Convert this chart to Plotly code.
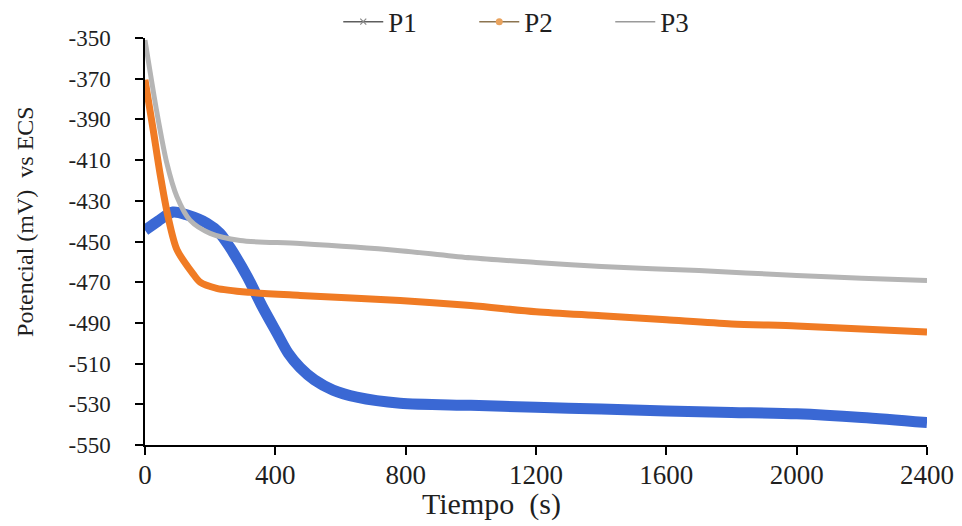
import plotly.graph_objects as go

# Tiempo (s) and Potencial (mV vs ECS)
t_p1 = [0, 40, 86, 130, 190, 230, 261, 313, 360, 405, 440, 476, 520, 577, 650, 783, 1000, 1200, 1400, 1600, 1800, 2000, 2200, 2400]
v_p1 = [-444.5, -440, -435.5, -437, -441, -446, -453, -467, -482, -495, -505, -512, -518, -523, -526.5, -529.5, -530.5, -531.5, -532.3, -533.3, -534, -534.7, -536.5, -539]

t_p2 = [0, 25, 46, 71, 98, 147, 169, 220, 322, 476, 783, 1000, 1200, 1400, 1600, 1800, 2000, 2200, 2400]
v_p2 = [-370.5, -395, -416.5, -438, -454, -465.8, -470, -473, -475, -476.5, -479, -481.5, -484.5, -486.5, -488.5, -490.5, -491.5, -493, -494.5]

t_p3 = [0, 37, 67, 98, 138, 200, 292, 476, 783, 1000, 1200, 1400, 1700, 2000, 2200, 2400]
v_p3 = [-351, -387, -411.5, -428, -439.5, -446, -449.5, -451, -454.5, -458, -460.3, -462.3, -464.3, -466.7, -468, -469.2]

x_ticks = [0, 400, 800, 1200, 1600, 2000, 2400]
y_ticks = [-350, -370, -390, -410, -430, -450, -470, -490, -510, -530, -550]
y_tick_text = ["-350", "-370", "-390", "-410", "-430", "-450", "-470", "-490", "-510", "-530", "-550"]

serif = "Liberation Serif"
txt = "#1f1f1f"

fig = go.Figure()
# drawing order: P1 at the bottom, P3 on top
fig.add_trace(go.Scatter(x=t_p1, y=v_p1, mode="lines", line=dict(color="#3A68D4", width=11, shape="spline", smoothing=0.8),
                         showlegend=False))
fig.add_trace(go.Scatter(x=t_p2, y=v_p2, mode="lines", line=dict(color="#F07B24", width=7, shape="spline", smoothing=0.8),
                         showlegend=False))
fig.add_trace(go.Scatter(x=t_p3, y=v_p3, mode="lines", line=dict(color="#B5B5B5", width=5, shape="spline", smoothing=0.8),
                         showlegend=False))

# legend entries as drawn in the original
fig.add_trace(go.Scatter(x=[None], y=[None], mode="lines+markers", name="P1",
                         line=dict(color="#5E5E5E", width=1.5),
                         marker=dict(symbol="x-thin", size=6, color="#8A8A8A", line=dict(color="#8A8A8A", width=1.2))))
fig.add_trace(go.Scatter(x=[None], y=[None], mode="lines+markers", name="P2",
                         line=dict(color="#8C7450", width=1.5), marker=dict(symbol="circle", size=7, color="#E9A35E")))
fig.add_trace(go.Scatter(x=[None], y=[None], mode="lines", name="P3",
                         line=dict(color="#9A9A9A", width=1.5)))

fig.update_layout(
    width=962, height=526,
    margin=dict(l=145, r=35, t=38, b=81, autoexpand=False),
    paper_bgcolor="white", plot_bgcolor="white",
    font=dict(family=serif, size=23, color=txt),
    legend=dict(orientation="h", x=0.508, xanchor="center", y=1.039, yanchor="middle",
                font=dict(family=serif, size=27, color=txt), itemwidth=40,
                entrywidth=81, entrywidthmode="pixels", bgcolor="rgba(0,0,0,0)"),
    xaxis=dict(range=[0, 2400], tickvals=x_ticks, ticks="outside", ticklen=8, tickcolor="black", tickwidth=1.5,
               showline=True, linecolor="black", linewidth=1.5, showgrid=False, zeroline=False,
               tickfont=dict(size=27, family=serif, color=txt), ticklabelstandoff=-3),
    yaxis=dict(range=[-550, -350], tickvals=y_ticks, ticktext=y_tick_text, ticks="outside", ticklen=8,
               tickcolor="black", tickwidth=1.5,
               showline=True, linecolor="black", linewidth=1.5, showgrid=False, zeroline=False,
               tickfont=dict(size=23, family=serif, color=txt), ticklabelstandoff=20),
    annotations=[
        dict(text="Tiempo  (s)", x=0.4425, y=-0.145, xref="paper", yref="paper", xanchor="center", yanchor="middle",
             showarrow=False, font=dict(family=serif, size=30, color=txt)),
        dict(text="Potencial (mV)  vs ECS", x=-0.1535, y=0.5504, xref="paper", yref="paper", xanchor="center",
             yanchor="middle", textangle=-90, showarrow=False, font=dict(family=serif, size=24, color=txt)),
    ],
)

fig.write_html("out.html")
